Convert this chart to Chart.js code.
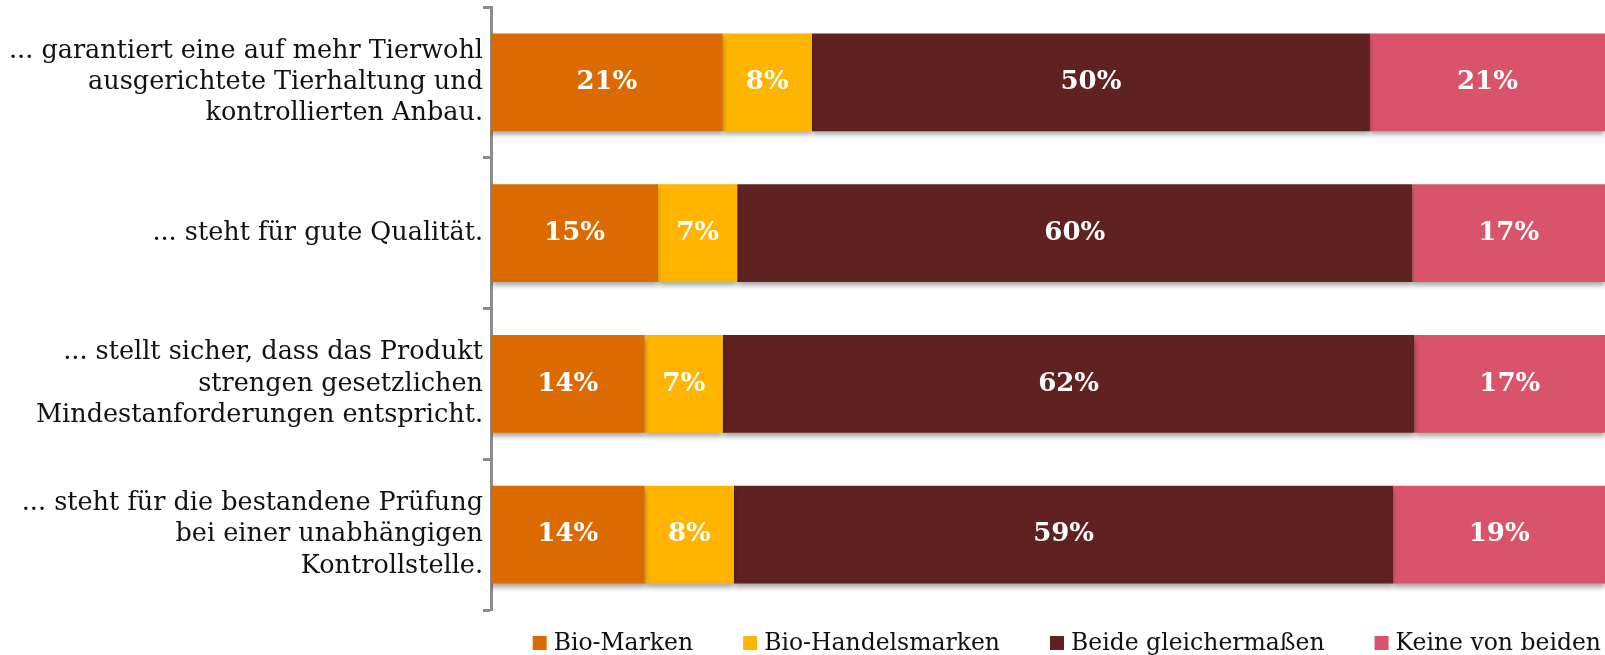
<!DOCTYPE html>
<html>
    <head>
        <title>Bio-Marken vs. Bio-Handelsmarken</title>
        <script src="https://cdn.jsdelivr.net/npm/chart.js@4.4.1/dist/chart.umd.min.js"></script>
        <style>
            body { margin: 0; background: #fff; }
            #box { width: 1605px; height: 655px; }
        </style>
    </head>
    <body>
        <div id="box"><canvas id="barChart"></canvas></div>
        <script>
            const categories = [
                ["... garantiert eine auf mehr Tierwohl", "ausgerichtete Tierhaltung und", "kontrollierten Anbau."],
                ["... steht für gute Qualität."],
                ["... stellt sicher, dass das Produkt", "strengen gesetzlichen", "Mindestanforderungen entspricht."],
                ["... steht für die bestandene Prüfung", "bei einer unabhängigen", "Kontrollstelle."],
            ];

            // bar lengths
            const bioMarken = [20.8, 15.0, 13.8, 13.8];
            const handelsmarken = [8.0, 7.1, 7.0, 8.0];
            const beide = [50.1, 60.6, 62.1, 59.2];
            const keine = [21.1, 17.3, 17.1, 19.0];

            // printed percentages
            const bioMarkenLabels = [21, 15, 14, 14];
            const handelsmarkenLabels = [8, 7, 7, 8];
            const beideLabels = [50, 60, 62, 59];
            const keineLabels = [21, 17, 17, 19];

            const serif = "'DejaVu Serif', 'Liberation Serif', serif";

            const createDataset = (name, data, printed, color) => {
                return {
                    label: name,
                    data: data,
                    printed: printed,
                    backgroundColor: color,
                    borderWidth: 0,
                    barPercentage: 1,
                    categoryPercentage: 0.65,
                };
            };

            const barShadow = {
                id: "barShadow",
                beforeDatasetsDraw(chart) {
                    const ctx = chart.ctx;
                    ctx.save();
                    ctx.shadowColor = "rgba(0, 0, 0, 0.35)";
                    ctx.shadowBlur = 5;
                    ctx.shadowOffsetY = 4;
                },
                afterDatasetsDraw(chart) {
                    chart.ctx.restore();
                },
            };

            const barLabels = {
                id: "barLabels",
                afterDatasetsDraw(chart) {
                    const ctx = chart.ctx;
                    ctx.save();
                    ctx.font = `bold 26px ${serif}`;
                    ctx.fillStyle = "#ffffff";
                    ctx.textAlign = "center";
                    ctx.textBaseline = "middle";
                    chart.data.datasets.forEach((ds, i) => {
                        chart.getDatasetMeta(i).data.forEach((bar, j) => {
                            const center = bar.getCenterPoint();
                            ctx.fillText(ds.printed[j] + "%", center.x, center.y);
                        });
                    });
                    ctx.restore();
                },
            };

            // legend drawn along the bottom, right aligned, with wide gaps
            const bottomLegend = {
                id: "bottomLegend",
                afterDraw(chart) {
                    const ctx = chart.ctx;
                    const box = 14;
                    const gap = 7;
                    const spacing = 50;
                    const baseline = 650;
                    ctx.save();
                    ctx.font = `23.5px ${serif}`;
                    const widths = chart.data.datasets.map(ds => ctx.measureText(ds.label).width);
                    const total = widths.reduce((a, w) => a + box + gap + w, 0) + spacing * (widths.length - 1);
                    let x = chart.width - 4 - total;
                    chart.data.datasets.forEach((ds, i) => {
                        ctx.fillStyle = ds.backgroundColor;
                        ctx.fillRect(x, baseline - box, box, box);
                        ctx.fillStyle = "#111111";
                        ctx.textBaseline = "alphabetic";
                        ctx.fillText(ds.label, x + box + gap, baseline);
                        x += box + gap + widths[i] + spacing;
                    });
                    ctx.restore();
                },
            };

            const chart = new Chart(document.getElementById("barChart"), {
                type: "bar",
                data: {
                    labels: categories,
                    datasets: [
                        createDataset("Bio-Marken", bioMarken, bioMarkenLabels, "#db6b00"),
                        createDataset("Bio-Handelsmarken", handelsmarken, handelsmarkenLabels, "#ffb500"),
                        createDataset("Beide gleichermaßen", beide, beideLabels, "#602121"),
                        createDataset("Keine von beiden", keine, keineLabels, "#d9546a"),
                    ],
                },
                options: {
                    indexAxis: "y",
                    responsive: true,
                    maintainAspectRatio: false,
                    animation: false,
                    layout: { padding: { top: 7, right: 0, left: 0, bottom: 45 } },
                    scales: {
                        x: {
                            stacked: true,
                            min: 0,
                            max: 100,
                            display: false,
                        },
                        y: {
                            stacked: true,
                            afterFit: (scale) => {
                                scale.width = 491;
                                scale.paddingTop = 0;
                                scale.paddingBottom = 0;
                            },
                            border: { display: true, color: "#8c8c8c", width: 3 },
                            grid: {
                                offset: true,
                                drawOnChartArea: false,
                                drawTicks: true,
                                tickLength: 8,
                                tickWidth: 3,
                                color: "#8c8c8c",
                            },
                            ticks: {
                                padding: 0,
                                color: "#111111",
                                font: { family: serif, size: 25.5, lineHeight: 1.235 },
                            },
                        },
                    },
                    plugins: {
                        tooltip: { enabled: false },
                        legend: { display: false },
                    },
                },
                plugins: [barShadow, barLabels, bottomLegend],
            });
        </script>
    </body>
</html>
